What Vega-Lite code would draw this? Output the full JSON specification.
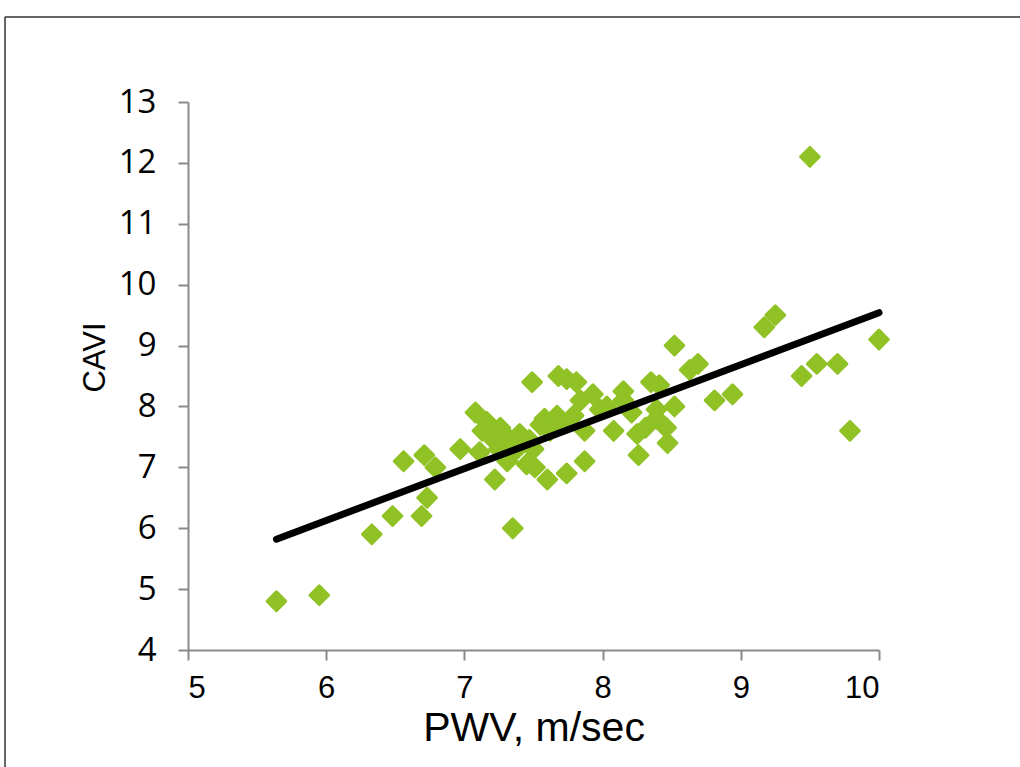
{
  "$schema": "https://vega.github.io/schema/vega-lite/v6.json",
  "autosize": "none",
  "width": 691,
  "height": 548,
  "padding": {"left": 188, "top": 102, "right": 141, "bottom": 117},
  "background": "white",
  "config": {"view": {"stroke": null}},
  "datasets": {
    "points": [
      {"pwv": 5.64, "cavi": 4.8}, {"pwv": 5.95, "cavi": 4.9}, {"pwv": 6.33, "cavi": 5.9}, {"pwv": 6.48, "cavi": 6.2},
      {"pwv": 6.56, "cavi": 7.1}, {"pwv": 6.69, "cavi": 6.2}, {"pwv": 6.73, "cavi": 6.5}, {"pwv": 6.71, "cavi": 7.2},
      {"pwv": 6.79, "cavi": 7.0}, {"pwv": 6.97, "cavi": 7.3},
      {"pwv": 7.08, "cavi": 7.9}, {"pwv": 7.16, "cavi": 7.75}, {"pwv": 7.13, "cavi": 7.6}, {"pwv": 7.26, "cavi": 7.65},
      {"pwv": 7.11, "cavi": 7.25}, {"pwv": 7.19, "cavi": 7.5}, {"pwv": 7.31, "cavi": 7.5}, {"pwv": 7.40, "cavi": 7.55},
      {"pwv": 7.47, "cavi": 7.45}, {"pwv": 7.31, "cavi": 7.1}, {"pwv": 7.22, "cavi": 6.8}, {"pwv": 7.45, "cavi": 7.05},
      {"pwv": 7.51, "cavi": 7.0}, {"pwv": 7.35, "cavi": 6.0}, {"pwv": 7.38, "cavi": 7.3}, {"pwv": 7.22, "cavi": 7.6},
      {"pwv": 7.25, "cavi": 7.3}, {"pwv": 7.49, "cavi": 8.4}, {"pwv": 7.68, "cavi": 8.5}, {"pwv": 7.74, "cavi": 8.45},
      {"pwv": 7.81, "cavi": 8.4}, {"pwv": 7.84, "cavi": 8.1}, {"pwv": 7.93, "cavi": 8.2}, {"pwv": 7.58, "cavi": 7.8},
      {"pwv": 7.67, "cavi": 7.85}, {"pwv": 7.79, "cavi": 7.85}, {"pwv": 7.62, "cavi": 7.6}, {"pwv": 7.87, "cavi": 7.6},
      {"pwv": 7.60, "cavi": 6.8}, {"pwv": 7.74, "cavi": 6.9}, {"pwv": 7.87, "cavi": 7.1}, {"pwv": 7.98, "cavi": 7.95},
      {"pwv": 8.03, "cavi": 8.0}, {"pwv": 8.08, "cavi": 7.6}, {"pwv": 7.55, "cavi": 7.7}, {"pwv": 7.70, "cavi": 7.7},
      {"pwv": 7.50, "cavi": 7.3}, {"pwv": 8.15, "cavi": 8.25}, {"pwv": 8.15, "cavi": 8.1}, {"pwv": 8.21, "cavi": 7.9},
      {"pwv": 8.31, "cavi": 7.65}, {"pwv": 8.39, "cavi": 7.8}, {"pwv": 8.46, "cavi": 7.65}, {"pwv": 8.47, "cavi": 7.4},
      {"pwv": 8.26, "cavi": 7.2}, {"pwv": 8.35, "cavi": 8.4}, {"pwv": 8.41, "cavi": 8.35}, {"pwv": 8.39, "cavi": 7.95},
      {"pwv": 8.25, "cavi": 7.55}, {"pwv": 8.52, "cavi": 8.0}, {"pwv": 8.52, "cavi": 9.0}, {"pwv": 8.63, "cavi": 8.6},
      {"pwv": 8.69, "cavi": 8.7}, {"pwv": 8.81, "cavi": 8.1}, {"pwv": 8.94, "cavi": 8.2}, {"pwv": 9.17, "cavi": 9.3},
      {"pwv": 9.25, "cavi": 9.5}, {"pwv": 9.44, "cavi": 8.5}, {"pwv": 9.55, "cavi": 8.7}, {"pwv": 9.70, "cavi": 8.7},
      {"pwv": 9.79, "cavi": 7.6}, {"pwv": 10.0, "cavi": 9.1}, {"pwv": 9.50, "cavi": 12.1}
    ],
    "trend": [{"pwv": 5.64, "cavi": 5.82}, {"pwv": 10.0, "cavi": 9.54}]
  },
  "layer": [
    {
      "data": {"values": [{}]},
      "mark": {"type": "rule", "stroke": "#333333", "strokeWidth": 1.5, "clip": false},
      "encoding": {
        "x": {"datum": 3.676, "type": "quantitative", "scale": {"domain": [5, 10], "nice": false, "zero": false}},
        "x2": {"datum": 11.05},
        "y": {"datum": 14.396, "type": "quantitative", "scale": {"domain": [4, 13], "nice": false, "zero": false}}
      }
    },
    {
      "data": {"values": [{}]},
      "mark": {"type": "rule", "stroke": "#333333", "strokeWidth": 1.5, "clip": false},
      "encoding": {
        "x": {"datum": 3.676, "type": "quantitative"},
        "y": {"datum": 14.396, "type": "quantitative"},
        "y2": {"datum": 2.0}
      }
    },
    {
      "data": {"name": "points"},
      "mark": {"type": "point", "shape": "diamond", "filled": true, "size": 350, "color": "#90C226", "opacity": 1, "stroke": "#90C226", "strokeWidth": 3, "strokeJoin": "round"},
      "encoding": {
        "x": {
          "field": "pwv", "type": "quantitative",
          "scale": {"domain": [5, 10], "nice": false, "zero": false},
          "axis": {
            "title": "PWV, m/sec", "values": [5, 6, 7, 8, 9, 10], "format": "d", "grid": false,
            "domainColor": "#8a8a8a", "domainWidth": 2, "tickColor": "#8a8a8a", "tickWidth": 2, "tickSize": 10,
            "labelFont": "Liberation Sans", "labelFontSize": 31, "labelColor": "#000000", "labelPadding": 13,
            "titleFont": "Liberation Sans", "titleFontSize": 41, "titleFontWeight": "normal", "titleColor": "#000000", "titlePadding": 5
          }
        },
        "y": {
          "field": "cavi", "type": "quantitative",
          "scale": {"domain": [4, 13], "nice": false, "zero": false},
          "axis": {
            "title": "CAVI", "values": [4, 5, 6, 7, 8, 9, 10, 11, 12, 13], "format": "d", "grid": false,
            "domainColor": "#8a8a8a", "domainWidth": 2, "tickColor": "#8a8a8a", "tickWidth": 2, "tickSize": 10,
            "labelFont": "Open Sans", "labelFontSize": 33, "labelColor": "#000000", "labelPadding": 22,
            "titleFont": "Liberation Sans", "titleFontSize": 31, "titleFontWeight": "normal", "titleColor": "#000000", "titlePadding": 7, "titleY": 255
          }
        }
      }
    },
    {
      "data": {"name": "trend"},
      "mark": {"type": "line", "color": "#000000", "strokeWidth": 7, "strokeCap": "round"},
      "encoding": {
        "x": {"field": "pwv", "type": "quantitative"},
        "y": {"field": "cavi", "type": "quantitative"}
      }
    }
  ]
}
